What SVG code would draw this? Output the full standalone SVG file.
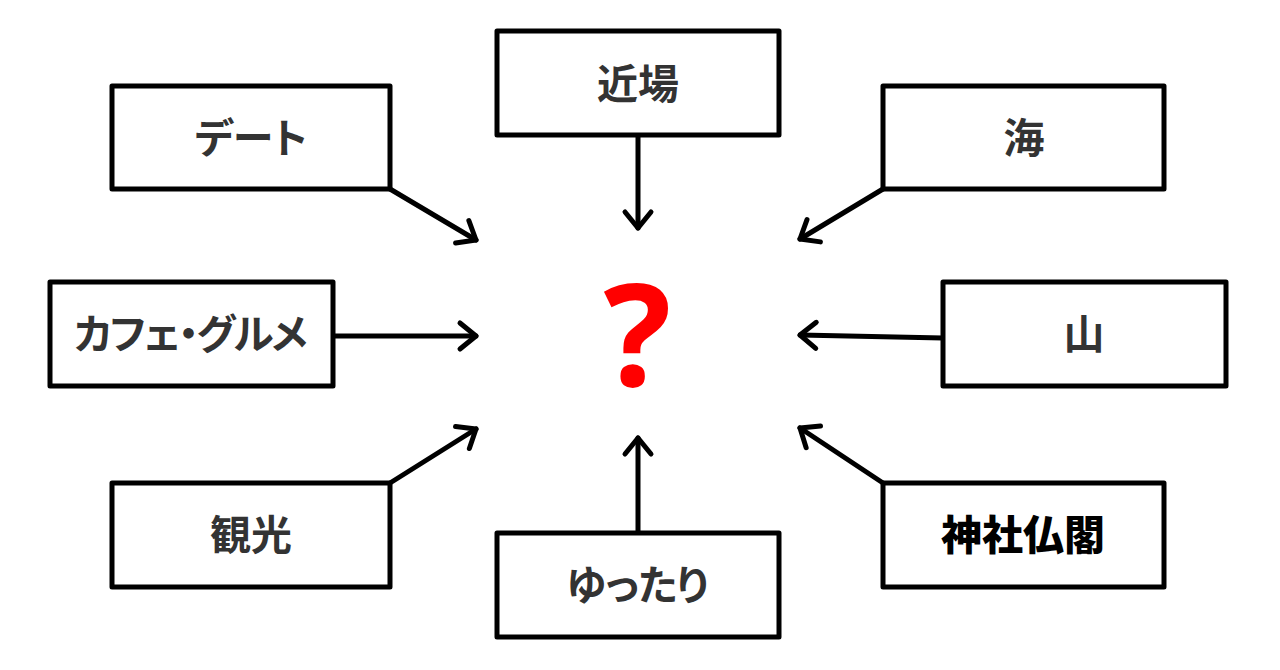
<svg xmlns="http://www.w3.org/2000/svg" width="1280" height="670" viewBox="0 0 1280 670">
<style>
.box{fill:#fff;stroke:#000;stroke-width:5;stroke-linejoin:round}
.lbl{font-family:"Noto Sans CJK JP","Noto Sans",sans-serif;font-weight:bold;font-size:41px;fill:#333;text-anchor:middle;dominant-baseline:central;font-feature-settings:"palt"}
.con{stroke:#000;stroke-width:5;fill:none;stroke-linecap:round}
</style>
<defs>
<marker id="ah" markerUnits="userSpaceOnUse" markerWidth="40" markerHeight="40" refX="20" refY="20" orient="auto" overflow="visible">
<path d="M4,7 L20,20 L4,33" fill="none" stroke="#000" stroke-width="5" stroke-linecap="round" stroke-linejoin="round"/>
</marker>
</defs>
<rect width="1280" height="670" fill="#fff"/>
<g id="connectors">
<line class="con" x1="638" y1="135" x2="638" y2="228" marker-end="url(#ah)"/>
<line class="con" x1="390" y1="189" x2="476" y2="240" marker-end="url(#ah)"/>
<line class="con" x1="883" y1="189" x2="800" y2="239" marker-end="url(#ah)"/>
<line class="con" x1="333" y1="336" x2="476" y2="336" marker-end="url(#ah)"/>
<line class="con" x1="943" y1="338" x2="800" y2="335" marker-end="url(#ah)"/>
<line class="con" x1="390" y1="483" x2="476" y2="429" marker-end="url(#ah)"/>
<line class="con" x1="638" y1="533" x2="638" y2="438" marker-end="url(#ah)"/>
<line class="con" x1="883" y1="483" x2="800" y2="428" marker-end="url(#ah)"/>
</g>
<g id="n-kinba"><rect class="box" x="497" y="31" width="282" height="104"/><text class="lbl" x="638" y="81">近場</text></g>
<g id="n-date"><rect class="box" x="112" y="86" width="278" height="103"/><text class="lbl" x="251" y="135">デート</text></g>
<g id="n-umi"><rect class="box" x="883" y="86" width="281" height="103"/><text class="lbl" x="1024" y="135">海</text></g>
<g id="n-cafe"><rect class="box" x="50" y="282" width="283" height="104"/><text class="lbl" x="190" y="331" style="letter-spacing:-2px">カフェ・グルメ</text></g>
<g id="n-yama"><rect class="box" x="943" y="282" width="283" height="104"/><text class="lbl" x="1084" y="331">山</text></g>
<g id="n-kanko"><rect class="box" x="112" y="483" width="278" height="104"/><text class="lbl" x="251" y="532">観光</text></g>
<g id="n-yuttari"><rect class="box" x="497" y="533" width="282" height="104"/><text class="lbl" x="637" y="582" style="letter-spacing:-1px">ゆったり</text></g>
<g id="n-jinja"><rect class="box" x="883" y="483" width="281" height="104"/><text class="lbl" x="1023" y="532" style="fill:#000;font-weight:900">神社仏閣</text></g>
<g id="n-q"><text x="637" y="386" font-family="Noto Sans, sans-serif" font-weight="bold" font-size="142" fill="#f00" text-anchor="middle">?</text></g>
</svg>
